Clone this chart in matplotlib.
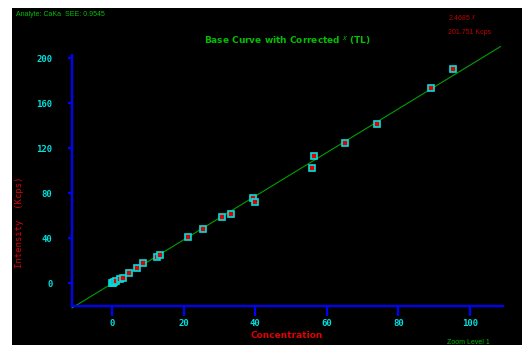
import numpy as np
import matplotlib
matplotlib.use("Agg")
import matplotlib.pyplot as plt

# =========================
# Data
# =========================
conc = [0.0, 0.3, 0.6, 1.0, 2.2, 3.1, 4.7, 7.0, 8.7, 12.6, 13.4,
        21.2, 25.4, 30.7, 33.2, 39.4, 40.0, 55.9, 56.5, 65.0, 73.9, 89.1, 95.3]
intens = [0.0, 0.6, 1.2, 1.8, 3.8, 4.7, 9.2, 13.6, 18.0, 23.4, 25.2,
          41.0, 48.0, 59.0, 61.6, 75.8, 72.0, 102.2, 113.0, 125.0, 141.3, 173.3, 191.0]

fit_x = [-11.2, 108.5]
slope, intercept = 1.94, 0.0

xticks = [0, 20, 40, 60, 80, 100]
yticks = [0, 40, 80, 120, 160, 200]

# =========================
# Colours
# =========================
BLUE = "#0000ff"
CYAN = "#00e0e0"
GREEN = "#00c000"
LINE_GREEN = "#00a000"
RED = "#e00000"
DARK_RED = "#c00000"

W, H = 522, 345
fig = plt.figure(figsize=(W / 100, H / 100), dpi=100)
fig.patch.set_facecolor("white")

# black panel (white strip on top and left in the original)
bg = fig.add_axes([12 / W, 0, (W - 12) / W, (H - 8) / H])
bg.set_axis_off()
bg.add_patch(plt.Rectangle((0, 0), 1, 1, transform=bg.transAxes,
                           facecolor="black", edgecolor="none"))

ax = fig.add_axes([72 / W, (H - 306) / H, (503 - 72) / W, (306 - 55) / H])
ax.set_facecolor("none")
ax.set_xlim(-11.2, 109.2)
ax.set_ylim(-20, 203)

# fit line
fx = np.array(fit_x)
ax.plot(fx, slope * fx + intercept, color=LINE_GREEN, linewidth=0.8,
        clip_on=False, zorder=2)

# standards
ax.plot(conc, intens, linestyle="none", marker="s", markersize=4,
        markerfacecolor=RED, markeredgecolor=CYAN, markeredgewidth=1.2,
        zorder=3)

# axes styling
for side in ["top", "right"]:
    ax.spines[side].set_visible(False)
for side in ["left", "bottom"]:
    ax.spines[side].set_color(BLUE)
    ax.spines[side].set_linewidth(1.6)

ax.set_xticks(xticks)
ax.set_yticks(yticks)
ax.tick_params(axis="x", colors=BLUE, direction="out", length=7, width=1.6,
               pad=2, labelcolor=CYAN)
ax.tick_params(axis="y", colors=BLUE, direction="out", length=3, width=1.6,
               pad=11, labelcolor=CYAN)
for lab in ax.get_xticklabels() + ax.get_yticklabels():
    lab.set_family("DejaVu Sans Mono")
    lab.set_fontweight("bold")
    lab.set_fontsize(6.5)

# =========================
# Texts
# =========================
fig.text(16 / W, 1 - 15 / H, "Analyte: CaKa  SEE: 0.9545", color=GREEN,
         fontsize=5.0, ha="left", va="center", family="Liberation Sans")
fig.text(287 / W, 1 - 40 / H, "Base Curve with Corrected $^{\\chi}$ (TL)",
         color=GREEN, fontsize=6.5, fontweight="bold", ha="center",
         va="center", family="DejaVu Sans")
fig.text(448 / W, 1 - 18 / H, "2.4685 $^{\\chi}$", color=DARK_RED,
         fontsize=5.0, ha="left", va="center", family="Liberation Sans")
fig.text(448 / W, 1 - 32 / H, "201.751 Kcps", color=DARK_RED,
         fontsize=5.0, ha="left", va="center", family="Liberation Sans")
fig.text(287 / W, 1 - 336 / H, "Concentration", color=RED, fontsize=6.5,
         fontweight="bold", ha="center", va="center", family="DejaVu Sans")
fig.text(20 / W, 1 - 222 / H, "Intensity  (Kcps)", color=RED, fontsize=6.5,
         rotation=90, ha="center", va="center", family="DejaVu Sans Mono")
fig.text(447 / W, 1 - 343 / H, "Zoom Level 1", color=GREEN, fontsize=5.0,
         ha="left", va="center", family="Liberation Sans")

fig.savefig("out.png", dpi=100)
